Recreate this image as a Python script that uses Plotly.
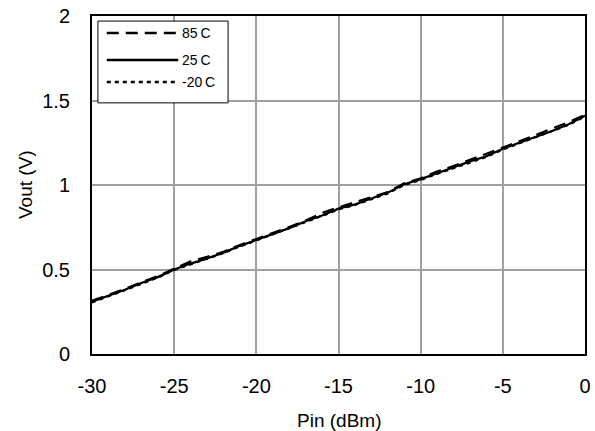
import plotly.graph_objects as go

# Detector output voltage vs. input power at three temperatures
pin_dbm = list(range(-30, 1))

vout_25c = [0.310, 0.345, 0.380, 0.420, 0.455, 0.500, 0.535, 0.565, 0.600, 0.640,
            0.675, 0.710, 0.745, 0.785, 0.820, 0.860, 0.885, 0.920, 0.955, 1.005,
            1.035, 1.070, 1.105, 1.140, 1.170, 1.215, 1.250, 1.285, 1.320, 1.360,
            1.410]
vout_85c = [0.315, 0.350, 0.385, 0.425, 0.460, 0.505, 0.548, 0.575, 0.605, 0.645,
            0.680, 0.715, 0.752, 0.790, 0.835, 0.868, 0.900, 0.928, 0.958, 1.010,
            1.040, 1.080, 1.112, 1.150, 1.185, 1.222, 1.258, 1.295, 1.335, 1.372,
            1.415]
vout_m20c = [0.305, 0.340, 0.378, 0.415, 0.452, 0.497, 0.530, 0.562, 0.597, 0.636,
             0.672, 0.707, 0.742, 0.782, 0.817, 0.856, 0.882, 0.916, 0.950, 1.000,
             1.030, 1.066, 1.100, 1.136, 1.166, 1.210, 1.246, 1.280, 1.316, 1.356,
             1.405]

series_names = ["85\u2009C", "25\u2009C", "-20\u2009C"]
series_values = [vout_85c, vout_25c, vout_m20c]
series_dash = ["12px,7px", "solid", "4px,4px"]

x_ticks = [-30, -25, -20, -15, -10, -5, 0]
x_tick_text = ["-30", "-25", "-20", "-15", "-10", "-5", "0"]
y_ticks = [0, 0.5, 1, 1.5, 2]
y_tick_text = ["0", "0.5", "1", "1.5", "2"]

x_title = "Pin (dBm)"
y_title = "Vout (V)"

FONT = "Liberation Sans, Arial, sans-serif"

fig = go.Figure()
for name, vals, dash in zip(series_names, series_values, series_dash):
    fig.add_trace(go.Scatter(
        x=pin_dbm, y=vals, mode="lines", name=name,
        line=dict(color="black", width=2.2, dash=dash),
        showlegend=False,
    ))

# Boxed legend in the upper-left corner of the plot area
fig.add_shape(type="rect", xref="paper", yref="paper",
              x0=0.012, x1=0.276, y0=0.743, y1=0.985,
              line=dict(color="black", width=1), fillcolor="white", layer="above")
legend_y = [0.950, 0.870, 0.805]
for name, dash, ly in zip(series_names, series_dash, legend_y):
    fig.add_shape(type="line", xref="paper", yref="paper",
                  x0=0.030, x1=0.175, y0=ly, y1=ly,
                  line=dict(color="black", width=2.5, dash=dash), layer="above")
    fig.add_annotation(xref="paper", yref="paper", x=0.178, y=ly,
                       text=name, showarrow=False, xanchor="left", yanchor="middle",
                       font=dict(family=FONT, size=14, color="black"))

# Axis titles placed as annotations so the plot area keeps fixed margins
fig.add_annotation(xref="paper", yref="paper", x=0.5, y=0, yshift=-66,
                   text=x_title, showarrow=False, xanchor="center", yanchor="middle",
                   font=dict(family=FONT, size=19, color="black"))
fig.add_annotation(xref="paper", yref="paper", x=0, y=0.5, xshift=-67,
                   text=y_title, showarrow=False, textangle=-90,
                   xanchor="center", yanchor="middle",
                   font=dict(family=FONT, size=19, color="black"))

axis_common = dict(
    showline=True, linecolor="black", linewidth=2, mirror=True,
    showgrid=True, gridcolor="#a0a0a0", gridwidth=2,
    zeroline=False, ticks="", automargin=False,
    tickfont=dict(family=FONT, size=20, color="black"),
)

fig.update_layout(
    width=595, height=431,
    margin=dict(l=92, r=10, t=16, b=77),
    paper_bgcolor="white", plot_bgcolor="white",
    xaxis=dict(range=[-30, 0], tickvals=x_ticks, ticktext=x_tick_text,
               ticklabelstandoff=13, **axis_common),
    yaxis=dict(range=[0, 2], tickvals=y_ticks, ticktext=y_tick_text,
               ticklabelstandoff=16, **axis_common),
)

fig.write_html("out.html")
